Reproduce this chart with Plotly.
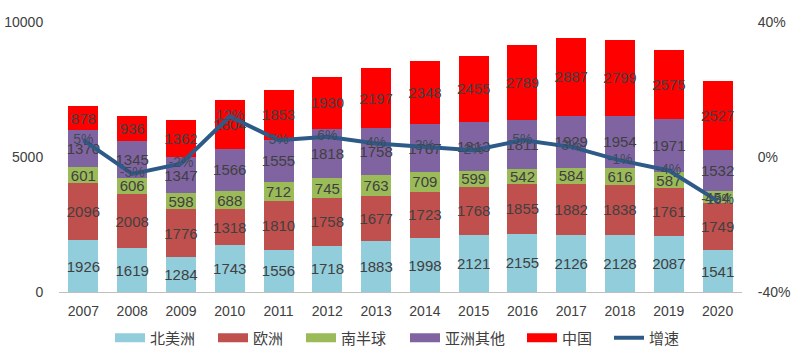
import plotly.graph_objects as go

years = ["2007", "2008", "2009", "2010", "2011", "2012", "2013", "2014", "2015", "2016", "2017", "2018", "2019", "2020"]
north_america = [1926, 1619, 1284, 1743, 1556, 1718, 1883, 1998, 2121, 2155, 2126, 2128, 2087, 1541]
europe = [2096, 2008, 1776, 1318, 1810, 1758, 1677, 1723, 1768, 1855, 1882, 1838, 1761, 1749]
southern = [601, 606, 598, 688, 712, 745, 763, 709, 599, 542, 584, 616, 587, 454]
asia_other = [1370, 1345, 1347, 1566, 1555, 1818, 1758, 1787, 1813, 1811, 1929, 1954, 1971, 1532]
china = [878, 936, 1362, 1804, 1853, 1930, 2197, 2348, 2455, 2789, 2887, 2799, 2575, 2527]
growth = [0.05, -0.05, -0.02, 0.12, 0.05, 0.06, 0.04, 0.03, 0.02, 0.05, 0.03, -0.01, -0.04, -0.13]

series = [
    ("北美洲", north_america, "#92CDDC"),
    ("欧洲", europe, "#C0504D"),
    ("南半球", southern, "#9BBB59"),
    ("亚洲其他", asia_other, "#8064A2"),
    ("中国", china, "#FF0000"),
]
LINE_COLOR = "#2E5A88"

FONT = "Liberation Sans, Arial, Noto Sans CJK SC, sans-serif"
CJK = "Noto Sans CJK SC, sans-serif"
TXT = "#404040"

# plot area geometry (pixels) used to place the separate legend entries
L, R, T, B, W, H = 59, 58, 22, 60, 800, 352
PW = W - L - R
legend_px = [115, 218, 306, 410, 527, 614]  # left edge of each legend swatch

fig = go.Figure()
for name, vals, color in series:
    fig.add_trace(go.Bar(
        x=years, y=vals, name=name, marker=dict(color=color, line=dict(width=0)),
        text=[str(v) for v in vals], textposition="inside", insidetextanchor="middle",
        constraintext="none", textangle=0,
        textfont=dict(family=FONT, size=15, color=TXT),
        hoverinfo="skip", showlegend=False,
    ))

fig.add_trace(go.Scatter(
    x=years, y=growth, name="增速", yaxis="y2", mode="lines+text",
    line=dict(color=LINE_COLOR, width=4),
    text=[f"{round(g*100)}%" for g in growth], textposition="middle center",
    textfont=dict(family=FONT, size=14, color="#404A5A"),
    cliponaxis=False, showlegend=False,
))

# legend entries: wide swatches like the original
legend_items = [(n, c, 9) for n, _, c in series] + [("增速", LINE_COLOR, 4)]
layout_legends = {}
for i, (name, color, lw) in enumerate(legend_items):
    key = "legend" if i == 0 else f"legend{i+1}"
    fig.add_trace(go.Scatter(
        x=[years[0]], y=[None], mode="lines", name=name,
        line=dict(color=color, width=lw), legend=key, showlegend=True, hoverinfo="skip",
    ))
    layout_legends[key] = dict(
        orientation="h", x=(legend_px[i] - 5 - L) / PW, xanchor="left",
        y=(H - B - 338) / (H - T - B), yanchor="middle",
        font=dict(family=CJK, size=15, color=TXT), itemwidth=30,
        bgcolor="rgba(0,0,0,0)",
    )

fig.update_layout(
    width=W, height=H,
    margin=dict(l=L, r=R, t=T, b=B, autoexpand=False),
    barmode="stack", bargap=0.385,
    plot_bgcolor="white", paper_bgcolor="white",
    font=dict(family=FONT, size=13, color=TXT),
    showlegend=True,
    xaxis=dict(range=[-0.5, 13.5], showline=True, linecolor="#BFBFBF", linewidth=1,
               ticks="outside", ticklen=6, tickcolor="white", showgrid=False,
               tickfont=dict(size=14, color=TXT), automargin=False),
    yaxis=dict(range=[0, 10000], tickvals=[0, 5000, 10000], ticktext=["0", "5000", "10000"],
               showgrid=False, zeroline=False, automargin=False,
               showline=False, tickfont=dict(size=14, color=TXT), ticklen=12, tickcolor="white", ticks="outside"),
    yaxis2=dict(range=[-0.4, 0.4], tickvals=[-0.4, 0, 0.4], ticktext=["-40%", "0%", "40%"], overlaying="y",
                side="right", showgrid=False, zeroline=False, showline=False, automargin=False,
                tickfont=dict(size=14, color=TXT), ticks="outside", ticklen=12, tickcolor="white"),
    **layout_legends,
)

fig.write_html("out.html")
